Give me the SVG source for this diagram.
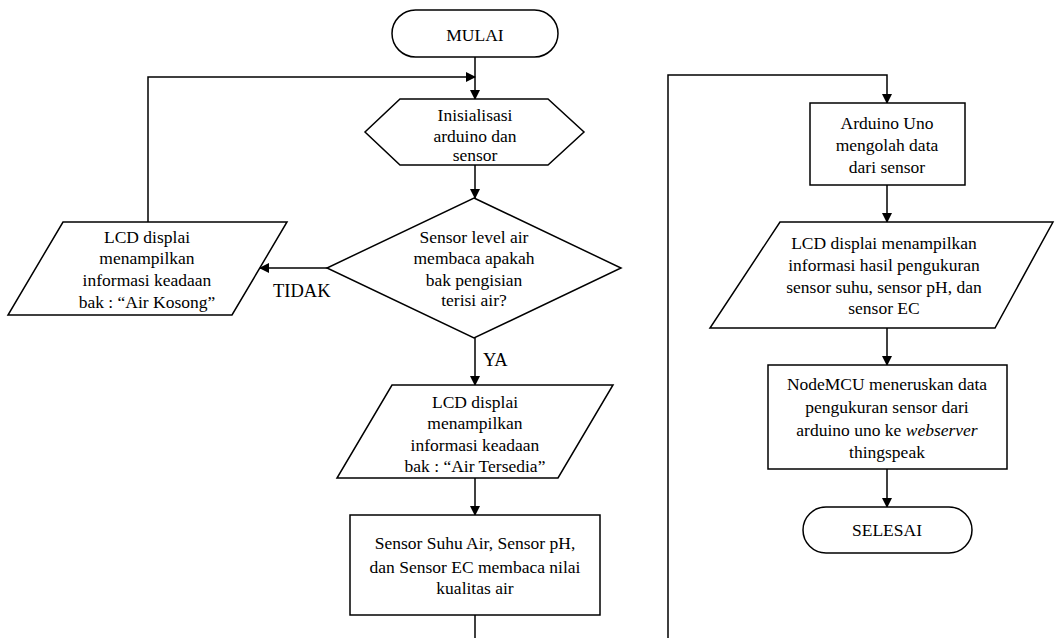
<svg xmlns="http://www.w3.org/2000/svg" width="1055" height="638" viewBox="0 0 1055 638">
<defs>
<marker id="ah" markerWidth="10" markerHeight="10" refX="9" refY="5" orient="auto" markerUnits="userSpaceOnUse">
<path d="M0,0 L10,5 L0,10 Z" fill="#000"/>
</marker>
<style>
.s{fill:#fff;stroke:#000;stroke-width:1.5}
.t{font-size:17.5px;fill:#000;text-anchor:middle}
.l{font-size:18.5px;fill:#000}
.c{fill:none;stroke:#000;stroke-width:1.5}
</style>
</defs>
<rect width="1055" height="638" fill="#fff"/>
<g font-family="Liberation Serif, Times New Roman, DejaVu Serif, serif">
<g id="connectors">
<path class="c" d="M475,57 V99" marker-end="url(#ah)"/>
<path class="c" d="M148,222 V77 H475" marker-end="url(#ah)"/>
<path class="c" d="M475,165 V198" marker-end="url(#ah)"/>
<path class="c" d="M327,268 H260" marker-end="url(#ah)"/>
<path class="c" d="M475,338 V385" marker-end="url(#ah)"/>
<path class="c" d="M475,478 V515" marker-end="url(#ah)"/>
<path class="c" d="M475,615 V638"/>
<path class="c" d="M668,638 V75 H887 V103" marker-end="url(#ah)"/>
<path class="c" d="M887,185 V222" marker-end="url(#ah)"/>
<path class="c" d="M887,328 V365" marker-end="url(#ah)"/>
<path class="c" d="M887,469 V507" marker-end="url(#ah)"/>
<text class="l" x="273" y="297">TIDAK</text>
<text class="l" x="483" y="366">YA</text>
</g>
<g id="mulai">
<rect class="s" x="392" y="10" width="166" height="47" rx="23.5"/>
<text class="t" x="475" y="41">MULAI</text>
</g>
<g id="init">
<polygon class="s" points="400,99 548,99 584,132 548,165 400,165 365,132"/>
<text class="t" x="475" y="121">Inisialisasi</text>
<text class="t" x="475" y="142">arduino dan</text>
<text class="t" x="475" y="161">sensor</text>
</g>
<g id="decision">
<polygon class="s" points="474,198 621,268 474,338 327,268"/>
<text class="t" x="474" y="243">Sensor level air</text>
<text class="t" x="474" y="264">membaca apakah</text>
<text class="t" x="474" y="286">bak pengisian</text>
<text class="t" x="474" y="306">terisi air?</text>
</g>
<g id="lcd-kosong">
<polygon class="s" points="63,222 287,222 232,315 8,315"/>
<text class="t" x="147" y="243">LCD displai</text>
<text class="t" x="147" y="264">menampilkan</text>
<text class="t" x="147" y="286">informasi keadaan</text>
<text class="t" x="147" y="308">bak : “Air Kosong”</text>
</g>
<g id="lcd-tersedia">
<polygon class="s" points="392,385 613,385 558,478 337,478"/>
<text class="t" x="475" y="408">LCD displai</text>
<text class="t" x="475" y="429">menampilkan</text>
<text class="t" x="475" y="451">informasi keadaan</text>
<text class="t" x="475" y="472">bak : “Air Tersedia”</text>
</g>
<g id="sensor-read">
<rect class="s" x="350" y="515" width="250" height="100"/>
<text class="t" x="475" y="549">Sensor Suhu Air, Sensor pH,</text>
<text class="t" x="475" y="573">dan Sensor EC membaca nilai</text>
<text class="t" x="475" y="594">kualitas air</text>
</g>
<g id="arduino">
<rect class="s" x="810" y="103" width="155" height="82"/>
<text class="t" x="887" y="129">Arduino Uno</text>
<text class="t" x="887" y="151">mengolah data</text>
<text class="t" x="887" y="173">dari sensor</text>
</g>
<g id="lcd-hasil">
<polygon class="s" points="780,222 1053,222 995,328 710,328"/>
<text class="t" x="884" y="249">LCD displai menampilkan</text>
<text class="t" x="884" y="271">informasi hasil pengukuran</text>
<text class="t" x="884" y="293">sensor suhu, sensor pH, dan</text>
<text class="t" x="884" y="314">sensor EC</text>
</g>
<g id="nodemcu">
<rect class="s" x="768" y="365" width="239" height="104"/>
<text class="t" x="887" y="390">NodeMCU meneruskan data</text>
<text class="t" x="887" y="413">pengukuran sensor dari</text>
<text class="t" x="887" y="436">arduino uno ke <tspan font-style="italic">webserver</tspan></text>
<text class="t" x="887" y="458">thingspeak</text>
</g>
<g id="selesai">
<rect class="s" x="803" y="507" width="169" height="46" rx="23"/>
<text class="t" x="887" y="536">SELESAI</text>
</g>
</g>
</svg>
